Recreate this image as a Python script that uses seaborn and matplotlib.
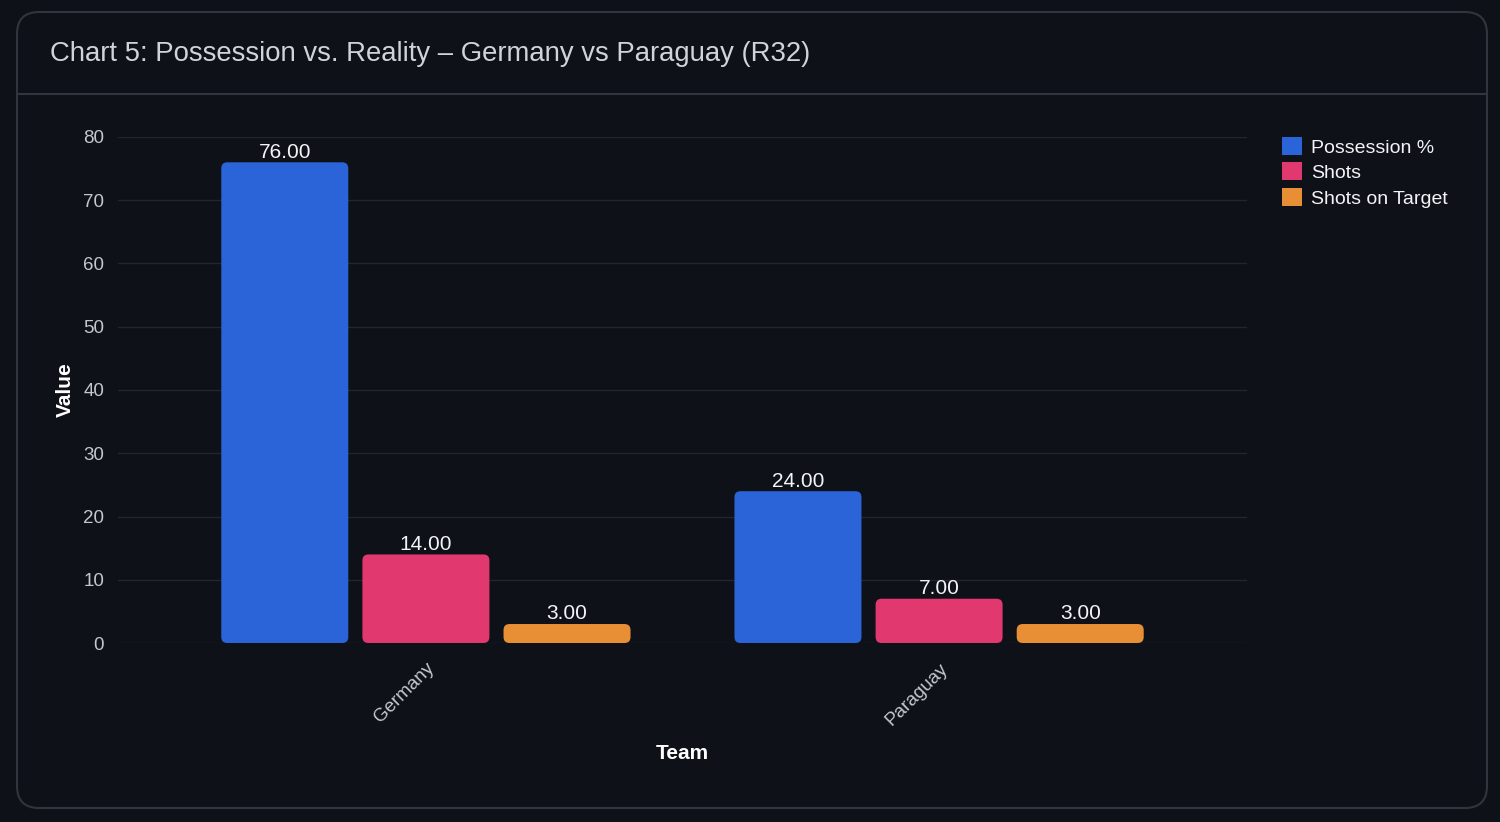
import matplotlib
matplotlib.use("Agg")
import matplotlib.pyplot as plt
from matplotlib.patches import FancyBboxPatch, Patch
from matplotlib.lines import Line2D
import seaborn as sns
import pandas as pd

# ---- data ----
teams = ["Germany", "Paraguay"]
metrics = ["Possession %", "Shots", "Shots on Target"]
possession = [76, 24]
shots = [14, 7]
shots_on_target = [3, 3]
colors = ["#2B63D9", "#E0386F", "#E88E35"]
title = "Chart 5: Possession vs. Reality – Germany vs Paraguay (R32)"

rows = []
for i, t in enumerate(teams):
    for m, vals in zip(metrics, [possession, shots, shots_on_target]):
        rows.append({"Team": t, "Metric": m, "Value": vals[i]})
df = pd.DataFrame(rows)

BG = "#0E1117"
BORDER = "#30363D"
GRID = "#22272F"
TICK = "#C3C8CF"

sns.set_theme(style="dark")
plt.rcParams["font.family"] = ["Liberation Sans", "DejaVu Sans"]

W, H = 1500, 822
fig = plt.figure(figsize=(W / 100, H / 100), dpi=100, facecolor=BG)

# card
card = FancyBboxPatch((17 / W, 1 - 808 / H), (1487 - 17) / W, (808 - 12) / H,
                      boxstyle="round,pad=0,rounding_size=%f" % (22 / W),
                      mutation_aspect=W / H, transform=fig.transFigure,
                      facecolor=BG, edgecolor=BORDER, linewidth=1.5, zorder=-10)
fig.patches.append(card)
fig.add_artist(Line2D([17 / W, 1487 / W], [1 - 94 / H, 1 - 94 / H],
                      transform=fig.transFigure, color=BORDER, linewidth=1.5,
                      zorder=-5))
fig.text(50 / W, 1 - 54 / H, title, color="#D0D4DA", fontsize=19.8,
         va="center", ha="left")

left, right, top, bottom = 118, 1247, 137, 643
ax = fig.add_axes([left / W, 1 - bottom / H, (right - left) / W, (bottom - top) / H])
ax.set_facecolor(BG)

sns.barplot(data=df, x="Team", y="Value", hue="Metric", palette=colors,
            width=0.825, gap=0.1, ax=ax, legend=False, saturation=1)

ax.set_xlim(-0.6, 1.6)
ax.set_ylim(0, 80)

# rounded bars
x_per_px = 2.2 / (right - left)
y_per_px = 80 / (bottom - top)
aspect = y_per_px / x_per_px
bars = list(ax.patches)
for p in bars:
    x0, y0 = p.get_x(), p.get_y()
    w, h = p.get_width(), p.get_height()
    fc = p.get_facecolor()
    p.remove()
    rb = FancyBboxPatch((x0, y0), w, h,
                        boxstyle="round,pad=0,rounding_size=%f" % (6 * x_per_px),
                        mutation_aspect=aspect, facecolor=fc, edgecolor="none",
                        zorder=3)
    ax.add_patch(rb)
    ax.annotate(f"{h:.2f}", (x0 + w / 2, y0 + h), xytext=(0, 0.5),
                textcoords="offset points", ha="center", va="bottom",
                color="#F2F4F7", fontsize=15)

ax.set_yticks(range(0, 81, 10))
ax.grid(axis="y", color=GRID, linewidth=1)
ax.grid(axis="x", visible=False)
ax.set_axisbelow(True)
for s in ax.spines.values():
    s.set_visible(False)
ax.tick_params(axis="both", length=0, colors=TICK, labelsize=13.5)
ax.tick_params(axis="y", pad=10)
plt.setp(ax.get_xticklabels(), rotation=45, ha="right", rotation_mode="anchor")
ax.tick_params(axis="x", pad=12)
ax.set_xlabel("Team", color="white", fontsize=15, fontweight="bold", labelpad=11)
ax.set_ylabel("Value", color="white", fontsize=15, fontweight="bold", labelpad=6)

handles = [Patch(facecolor=c, edgecolor="none") for c in colors]
fig.legend(handles, metrics, loc="upper left",
           bbox_to_anchor=(1280 / W, 1 - 135 / H), frameon=False,
           fontsize=14, labelcolor="#F2F4F7", handlelength=1.05,
           handleheight=1.05, handletextpad=0.45, labelspacing=0.3,
           borderaxespad=0, borderpad=0.1)

fig.savefig("out.png", dpi=100, facecolor=BG)
